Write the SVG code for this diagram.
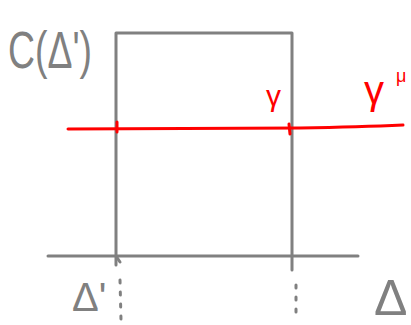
<svg xmlns="http://www.w3.org/2000/svg" width="411" height="325" viewBox="0 0 411 325">
<style>
.g{stroke:#808080;stroke-width:3;fill:none;stroke-linecap:round;stroke-linejoin:round}
.r{stroke:#ff0000;stroke-width:3;fill:none;stroke-linecap:round}
.d{stroke:#808080;stroke-width:3;fill:none;stroke-linecap:round;stroke-dasharray:3 9}
.tg{fill:#808080;font-family:"Liberation Sans",sans-serif}
.tr{fill:#ff0000;font-family:"Liberation Sans",sans-serif}
</style>
<rect width="411" height="325" fill="#ffffff"/>
<g id="connectors">
<path class="g" d="M116,265 L116,33 L292,33 L292,270"/>
<path class="g" d="M48,256 L358,256"/>
<path class="r" d="M68,129 L300,128 Q360,127 403,125"/>
<path class="r" d="M117,122 L117,132"/>
<path class="r" d="M289,124 L290,134"/>
<path class="g" d="M116,256 L120,262"/>
<path class="d" d="M120,280 L121,320"/>
<path class="d" d="M296,285 L296,320"/>
</g>
<g id="label-C"><text class="tg" x="8" y="68" font-size="52" textLength="84" lengthAdjust="spacingAndGlyphs">C(Δ')</text></g>
<g id="label-gamma"><text class="tr" x="266" y="106" font-size="30">γ</text></g>
<g id="label-gamma-mu"><text class="tr" x="364" y="104" font-size="40">γ</text><text class="tr" x="396" y="82" font-size="18">μ</text></g>
<g id="label-delta-prime"><text class="tg" x="72" y="311" font-size="40">Δ'</text></g>
<g id="label-delta"><text class="tg" x="374" y="315" font-size="50">Δ</text></g>
</svg>
